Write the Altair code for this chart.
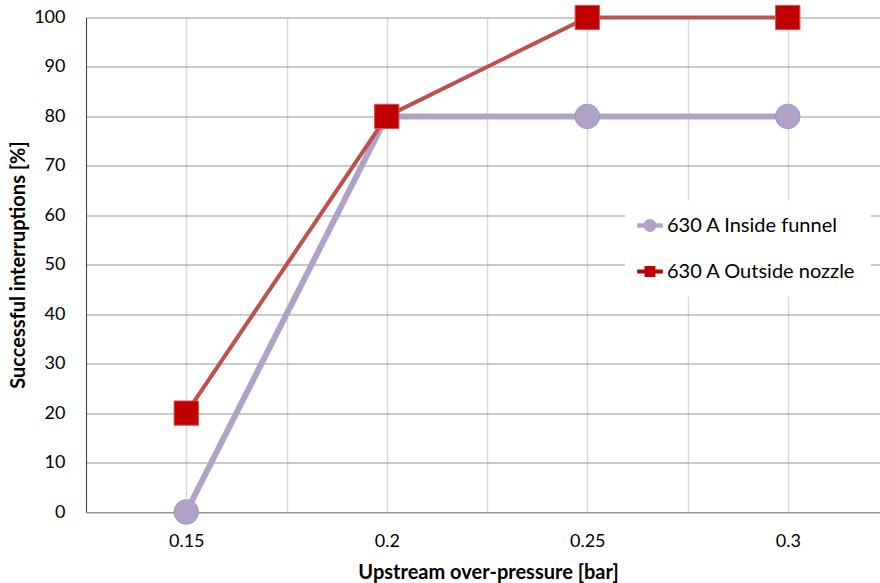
import altair as alt
import pandas as pd

pressure = [0.15, 0.2, 0.25, 0.3]
inside_funnel = [0, 80, 80, 80]
outside_nozzle = [20, 80, 100, 100]
series_names = ["630 A Inside funnel", "630 A Outside nozzle"]
x_ticks = [0.125, 0.15, 0.175, 0.2, 0.225, 0.25, 0.275, 0.3]
y_ticks = [0, 10, 20, 30, 40, 50, 60, 70, 80, 90, 100]

rows = []
for p, v in zip(pressure, inside_funnel):
    rows.append({"pressure": p, "value": v, "series": series_names[0]})
for p, v in zip(pressure, outside_nozzle):
    rows.append({"pressure": p, "value": v, "series": series_names[1]})
df = pd.DataFrame(rows)

FONT = "Lato"
line_colors = ["#B3A2C7", "#C0504D"]
marker_fill = ["#B3A2C7", "#C00000"]
marker_stroke = ["#7F9FD0", "#D9534F"]
legend_fill = ["#B3A2C7", "#C00000"]

path_in = ("M-1.6,-0.28H1.6V0.28H-1.6Z "
           "M-0.8,0 A0.8,0.8 0 1,1 0.8,0 A0.8,0.8 0 1,1 -0.8,0 Z")
path_out = "M-1.6,-0.25H1.6V0.25H-1.6Z M-0.68,-0.68H0.68V0.68H-0.68Z"

x_enc = alt.X(
    "pressure:Q",
    scale=alt.Scale(domain=[0.125, 0.323], nice=False, zero=False),
    axis=alt.Axis(
        values=x_ticks,
        labelExpr="round(datum.value*1000) % 50 == 0 ? toString(round(datum.value*1000)/1000) : ''",
        grid=True, gridColor="#d9d9d9", gridWidth=1.5,
        domainColor="#969696", domainWidth=1,
        ticks=False, tickSize=0,
        labelFont=FONT, labelFontSize=18, labelColor="#000000",
        labelBaseline="alphabetic", labelPadding=34,
        title="Upstream over-pressure [bar]",
        titleFont=FONT, titleFontSize=20, titleFontWeight="bold", titleColor="#000000",
        titleBaseline="alphabetic", titleX=402, titleY=66, titleAnchor="middle",
    ),
)
y_enc = alt.Y(
    "value:Q",
    scale=alt.Scale(domain=[0, 100], nice=False),
    axis=alt.Axis(
        values=y_ticks,
        grid=True, gridColor="#969696", gridWidth=1,
        domainColor="#404040", domainWidth=1,
        ticks=False, tickSize=0,
        labelFont=FONT, labelFontSize=18, labelColor="#000000",
        labelPadding=21,
        title="Successful interruptions [%]",
        titleFont=FONT, titleFontSize=20, titleFontWeight="bold", titleColor="#000000",
        titleAngle=-90, titleBaseline="middle", titleX=-68, titleY=247, titleAnchor="middle",
    ),
)

lines = alt.Chart(df).mark_line().encode(
    x=x_enc,
    y=y_enc,
    color=alt.Color("series:N", scale=alt.Scale(domain=series_names, range=line_colors), legend=None),
    strokeWidth=alt.StrokeWidth("series:N", scale=alt.Scale(domain=series_names, range=[6, 4]), legend=None),
)

points = alt.Chart(df).mark_point(filled=False, opacity=1).encode(
    x=x_enc,
    y=y_enc,
    shape=alt.Shape("series:N", scale=alt.Scale(domain=series_names, range=["circle", "square"]), legend=None),
    fill=alt.Fill("series:N", scale=alt.Scale(domain=series_names, range=marker_fill), legend=None),
    stroke=alt.Stroke("series:N", scale=alt.Scale(domain=series_names, range=marker_stroke), legend=None),
    size=alt.Size("series:N", scale=alt.Scale(domain=series_names, range=[600, 590]), legend=None),
    strokeWidth=alt.value(1),
    fillOpacity=alt.value(1),
)

leg = alt.Legend(
    title=None, orient="none", legendX=539, legendY=183,
    fillColor="white", padding=15,
    labelFont=FONT, labelFontSize=20, labelColor="#000000", labelLimit=400,
    labelOffset=7, rowPadding=26, symbolSize=256,
    symbolOpacity=1, symbolStrokeWidth=0,
)

legend_layer = alt.Chart(df).mark_point(filled=True, opacity=0).encode(
    x=x_enc,
    y=y_enc,
    shape=alt.Shape("series:N", scale=alt.Scale(domain=series_names, range=[path_in, path_out]), legend=leg),
    fill=alt.Fill("series:N", scale=alt.Scale(domain=series_names, range=legend_fill), legend=leg),
)

chart = alt.layer(lines, points, legend_layer).resolve_scale(
    shape="independent", fill="independent"
).properties(
    width=794,
    height=494.5,
    autosize=alt.AutoSizeParams(type="none"),
    padding={"left": 86, "top": 17.5, "right": 0, "bottom": 71},
    background="white",
).configure_view(stroke=None)

chart.save("out.html", embed_options={"renderer": "svg", "actions": False})
